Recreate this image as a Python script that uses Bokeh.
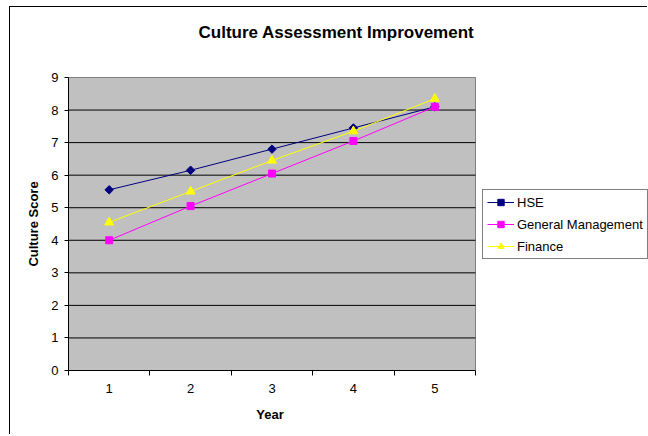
import math
from bokeh.plotting import figure
from bokeh.models import Range1d, FixedTicker, Legend, LegendItem, Label
from bokeh.embed import file_html
from bokeh.resources import INLINE

years = ["1", "2", "3", "4", "5"]
x_pos = [1, 2, 3, 4, 5]
hse = [5.55, 6.15, 6.8, 7.45, 8.1]
general_mgmt = [4.0, 5.05, 6.05, 7.05, 8.1]
finance = [4.55, 5.5, 6.45, 7.35, 8.35]
y_ticks = [0, 1, 2, 3, 4, 5, 6, 7, 8, 9]
series_names = ["HSE", "General Management", "Finance"]
title_text = "Culture Assessment Improvement"
x_title = "Year"
y_title = "Culture Score"

FONT = "Liberation Sans"

# layout (pixels); the frame covers the whole canvas, the grey plot area sits inside it
W, H = 638, 428
PLOT_L, PLOT_T, PLOT_B = 58, 70, 65   # grey area offsets from canvas left / top / bottom
PLOT_W = 407
PLOT_H = H - PLOT_T - PLOT_B
x_lo = x_pos[0] - 0.5
x_hi = x_pos[-1] + 0.5
y_lo, y_hi = y_ticks[0], y_ticks[-1]
px_x = PLOT_W / (x_hi - x_lo)
px_y = PLOT_H / (y_hi - y_lo)
x_range = Range1d(x_lo - PLOT_L / px_x, x_lo + (W - PLOT_L) / px_x)
y_range = Range1d(y_lo - PLOT_B / px_y, y_lo + (H - PLOT_B) / px_y)

p = figure(width=W, height=H, x_range=x_range, y_range=y_range,
           output_backend="svg", toolbar_location=None, title=None,
           min_border_left=0, min_border_right=0, min_border_top=0, min_border_bottom=0)

p.styles = {"margin-left": "9px", "margin-top": "6px",
            "border-left": "1px solid black", "border-top": "1px solid black"}

p.background_fill_color = "white"
p.border_fill_color = "white"
p.outline_line_color = None
p.xgrid.visible = False
p.ygrid.visible = False

# grey plotting area and horizontal gridlines
p.quad(left=[x_lo], right=[x_hi], bottom=[y_lo], top=[y_hi],
       fill_color="#C0C0C0", line_color="#808080", line_width=1)
p.segment(x0=[x_lo] * (len(y_ticks) - 2), x1=[x_hi] * (len(y_ticks) - 2),
          y0=y_ticks[1:-1], y1=y_ticks[1:-1], line_color="black", line_width=1)

xa = p.xaxis[0]
xa.fixed_location = y_lo
xa.bounds = (x_lo, x_hi)
xa.ticker = FixedTicker(ticks=x_pos, minor_ticks=[v - 0.5 for v in x_pos] + [x_hi])
xa.major_label_overrides = {v: s for v, s in zip(x_pos, years)}
xa.major_tick_out = 0
xa.major_tick_in = 0
xa.minor_tick_out = 5
xa.minor_tick_in = 0
xa.minor_tick_line_color = "black"
xa.axis_line_color = "black"
xa.major_label_standoff = 8

ya = p.yaxis[0]
ya.fixed_location = x_lo
ya.bounds = (y_lo, y_hi)
ya.ticker = FixedTicker(ticks=y_ticks)
ya.major_tick_out = 4
ya.major_tick_in = 0
ya.minor_tick_line_color = None
ya.axis_line_color = "black"
ya.major_label_standoff = 6

for ax in (xa, ya):
    ax.major_label_text_font = FONT
    ax.major_label_text_font_size = "13px"
    ax.major_label_text_color = "black"
    ax.major_tick_line_color = "black"

# titles (screen units measured from the canvas bottom-left)
p.add_layout(Label(x=188, y=H - 24.5, x_units="screen", y_units="screen", text=title_text,
                   text_font=FONT, text_font_size="17px", text_font_style="bold", text_color="black",
                   text_align="left", text_baseline="middle"))
p.add_layout(Label(x=PLOT_L + PLOT_W / 2 - 2, y=21, x_units="screen", y_units="screen", text=x_title,
                   text_font=FONT, text_font_size="13px", text_font_style="bold", text_color="black",
                   text_align="center", text_baseline="middle"))
p.add_layout(Label(x=23, y=PLOT_B + PLOT_H / 2, x_units="screen", y_units="screen", text=y_title,
                   angle=math.pi / 2,
                   text_font=FONT, text_font_size="13px", text_font_style="bold", text_color="black",
                   text_align="center", text_baseline="middle"))

l1 = p.line(x_pos, hse, line_color="#000080", line_width=1)
s1 = p.scatter(x_pos, hse, marker="square", size=6, angle=math.pi / 4,
               fill_color="#000080", line_color="#000080")
l2 = p.line(x_pos, general_mgmt, line_color="#FF00FF", line_width=1)
s2 = p.scatter(x_pos, general_mgmt, marker="square", size=7, fill_color="#FF00FF", line_color="#FF00FF")
l3 = p.line(x_pos, finance, line_color="#FFFF00", line_width=1)
s3 = p.scatter(x_pos, finance, marker="triangle", size=9, fill_color="#FFFF00", line_color="#FFFF00")

legend = Legend(items=[
    LegendItem(label=series_names[0], renderers=[l1, s1]),
    LegendItem(label=series_names[1], renderers=[l2, s2]),
    LegendItem(label=series_names[2], renderers=[l3, s3]),
], location=(472, 176))
legend.border_line_color = "black"
legend.border_line_width = 1
legend.background_fill_color = "white"
legend.background_fill_alpha = 1
legend.label_text_font = FONT
legend.label_text_font_size = "13px"
legend.label_text_color = "black"
legend.glyph_width = 27
legend.glyph_height = 16
legend.label_height = 16
legend.label_standoff = 3
legend.spacing = 6
legend.padding = 4
legend.margin = 0
p.add_layout(legend)

open("out.html", "w").write(file_html(p, INLINE))
